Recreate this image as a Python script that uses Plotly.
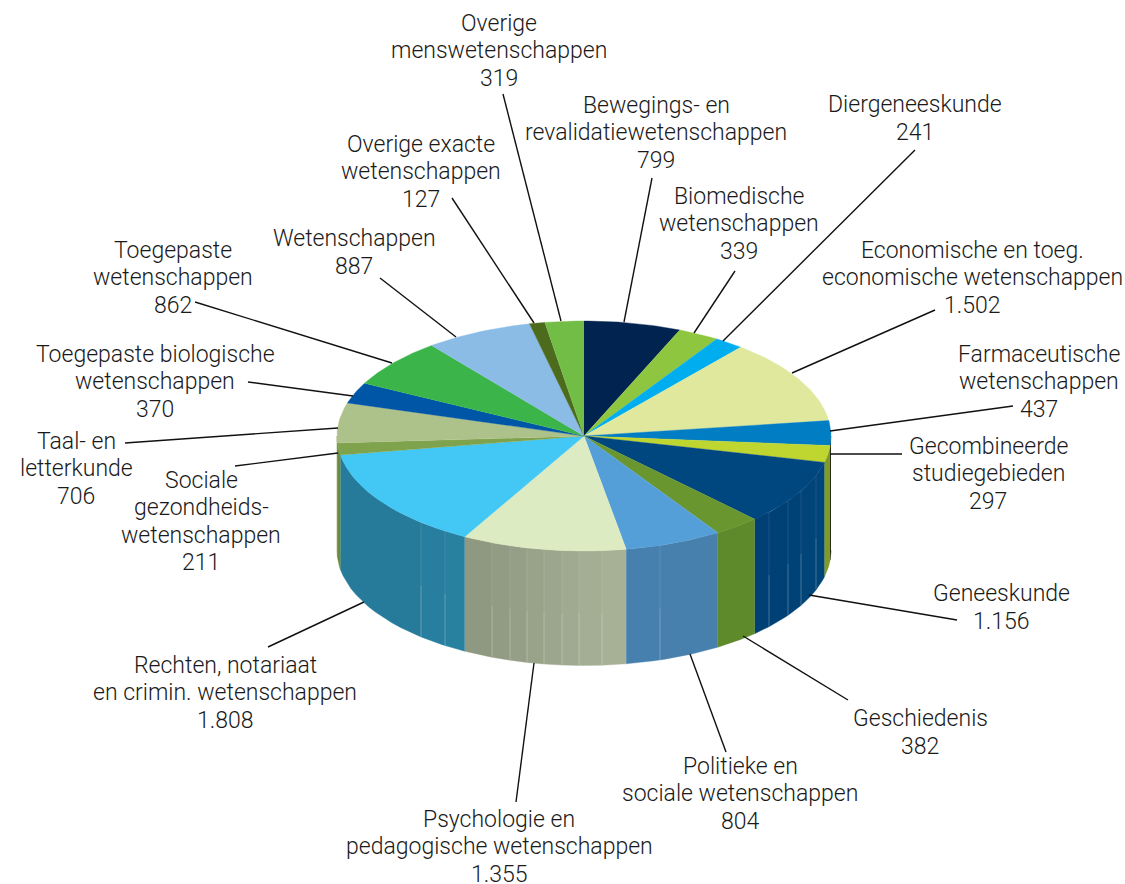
import math
import plotly.graph_objects as go

# ---- data, clockwise from 12 o'clock ----
categories = ["Bewegings- en<br>revalidatiewetenschappen", "Biomedische<br>wetenschappen", "Diergeneeskunde",
              "Economische en toeg.<br>economische wetenschappen", "Farmaceutische<br>wetenschappen",
              "Gecombineerde<br>studiegebieden", "Geneeskunde", "Geschiedenis", "Politieke en<br>sociale wetenschappen",
              "Psychologie en<br>pedagogische wetenschappen", "Rechten, notariaat<br>en crimin. wetenschappen",
              "Sociale<br>gezondheids-<br>wetenschappen", "Taal- en<br>letterkunde", "Toegepaste biologische<br>wetenschappen",
              "Toegepaste<br>wetenschappen", "Wetenschappen", "Overige exacte<br>wetenschappen", "Overige<br>menswetenschappen"]
values = [799, 339, 241, 1502, 437, 297, 1156, 382, 804, 1355, 1808, 211, 706, 370, 862, 887, 127, 319]
value_labels = ["799", "339", "241", "1.502", "437", "297", "1.156", "382", "804", "1.355", "1.808", "211", "706", "370", "862", "887", "127", "319"]

# ---- styles ----
top_colors = ["#00234f", "#8fc640", "#00aeef", "#dfe89c", "#007dc3", "#bed62f", "#00467f", "#69962e", "#549fd8",
              "#dcebc1", "#43c8f5", "#7fa34d", "#adc28a", "#0056a6", "#3bb54a", "#8abce6", "#4c6b1d", "#72bd45"]
side_from = ["#000000"] * 5 + ["#7f9a25", "#00467a", "#5e8a2b", "#4880ad", "#a8b398", "#2a82a2", "#6d8a3a", "#6d8a3a"] + ["#000000"] * 5
side_to = ["#000000"] * 5 + ["#7f9a25", "#003f73", "#5e8a2b", "#4580ae", "#8d967f", "#267a99", "#6d8a3a", "#6d8a3a"] + ["#000000"] * 5
# page x of the faint seams in each slice's side wall, from right to left
side_seams = {6: [816, 801, 788, 769], 8: [660], 9: [602, 579, 562, 544, 527, 510, 492], 10: [445, 421]}
# label centre (x, y) and leader line (x0, y0, x1, y1) in page pixels
label_pos = [(656, 132), (739, 223), (915, 118), (972, 277), (1039, 381), (988, 473), (1001, 607), (920, 732), (740, 793),
             (499, 846), (225, 692), (201, 521), (76, 468), (155, 381), (173, 277), (354, 252), (421, 171), (499, 50)]
leaders = [(652, 178, 624, 322), (735, 271, 694, 333), (915, 150, 723, 341), (935, 310, 792, 373), (1013, 406, 830, 431),
           (902, 454, 830, 454), (957, 620, 809, 595), (848, 700, 743, 636), (726, 752, 690, 654), (516, 802, 534, 663),
           (268, 647, 364, 602), (235, 466, 338, 453), (125, 443, 338, 428), (248, 382, 353, 396), (195, 302, 392, 363),
           (380, 278, 456, 337), (452, 198, 534, 323), (503, 94, 561, 321)]
CX, CY, RX, RY, DEPTH = 584, 436, 247, 115, 114.5
LINE_H = 27.5


def pt(theta, dy=0):
    return CX + RX * math.sin(theta), CY - RY * math.cos(theta) + dy


def rgb(c):
    return [int(c[i:i + 2], 16) for i in (1, 3, 5)]


def mix(a, b, t):
    a, b = rgb(a), rgb(b)
    return "rgb(%d,%d,%d)" % tuple(round(a[i] + (b[i] - a[i]) * t) for i in range(3))


fig = go.Figure()
total = sum(values)
edges = [0]
for v in values:
    edges.append(edges[-1] + v / total * 2 * math.pi)


def poly(xs, ys, color):
    fig.add_trace(go.Scatter(x=xs, y=ys, mode="lines", fill="toself", fillcolor=color,
                             line=dict(width=0.4, color=color), hoverinfo="skip", showlegend=False))


def seg(xs, ys, color, width):
    fig.add_trace(go.Scatter(x=xs, y=ys, mode="lines", line=dict(color=color, width=width),
                             hoverinfo="skip", showlegend=False))


# side wall: only the part of each slice that faces the viewer
for i in range(len(values)):
    a0, a1 = max(edges[i], math.pi / 2), min(edges[i + 1], 3 * math.pi / 2)
    if a1 <= a0:
        continue
    inner = [math.pi - math.asin((x - CX) / RX) for x in side_seams.get(i, [])]
    cuts = [a0] + inner + [a1]
    n = len(cuts) - 1
    for k in range(n):
        f0, f1 = cuts[k], cuts[k + 1]
        ts = [f0 + (f1 - f0) * j / 12 for j in range(13)]
        pts = [pt(t) for t in ts] + [pt(t, DEPTH) for t in reversed(ts)]
        poly([p[0] for p in pts], [p[1] for p in pts], mix(side_from[i], side_to[i], (k + 0.5) / n))
    for t in inner:
        x, y = pt(t)
        seg([x, x], [y, y + DEPTH], "rgba(255,255,255,0.10)", 1)
        seg([x, x], [y + DEPTH * 0.55, y + DEPTH], "rgba(255,255,255,0.18)", 1)

# top face
for i in range(len(values)):
    a0, a1 = edges[i], edges[i + 1]
    steps = max(3, int((a1 - a0) * 60))
    pts = [(CX, CY)] + [pt(a0 + (a1 - a0) * j / steps) for j in range(steps + 1)]
    poly([p[0] for p in pts], [p[1] for p in pts], top_colors[i])

# leader lines
for x0, y0, x1, y1 in leaders:
    seg([x0, x1], [y0, y1], "#111111", 1.4)

# labels, one annotation per line so that the line pitch can be tighter than Plotly's default
for name, val, (x, y) in zip(categories, value_labels, label_pos):
    lines = name.split("<br>") + [val]
    for j, line in enumerate(lines):
        fig.add_annotation(x=x, y=y + 0.7 + (j - (len(lines) - 1) / 2) * LINE_H, text=line, showarrow=False, align="center",
                           xanchor="center", yanchor="middle",
                           font=dict(family="Roboto", size=23, color="#1a1a1a", weight=300))

fig.update_layout(width=1125, height=884, margin=dict(l=0, r=0, t=0, b=0), paper_bgcolor="white", plot_bgcolor="white",
                  xaxis=dict(range=[0, 1125], visible=False, fixedrange=True),
                  yaxis=dict(range=[884, 0], visible=False, fixedrange=True),
                  showlegend=False)
fig.write_html("out.html", config=dict(displayModeBar=False),
               post_script="document.body.style.margin='0';document.documentElement.style.overflow='hidden';")
